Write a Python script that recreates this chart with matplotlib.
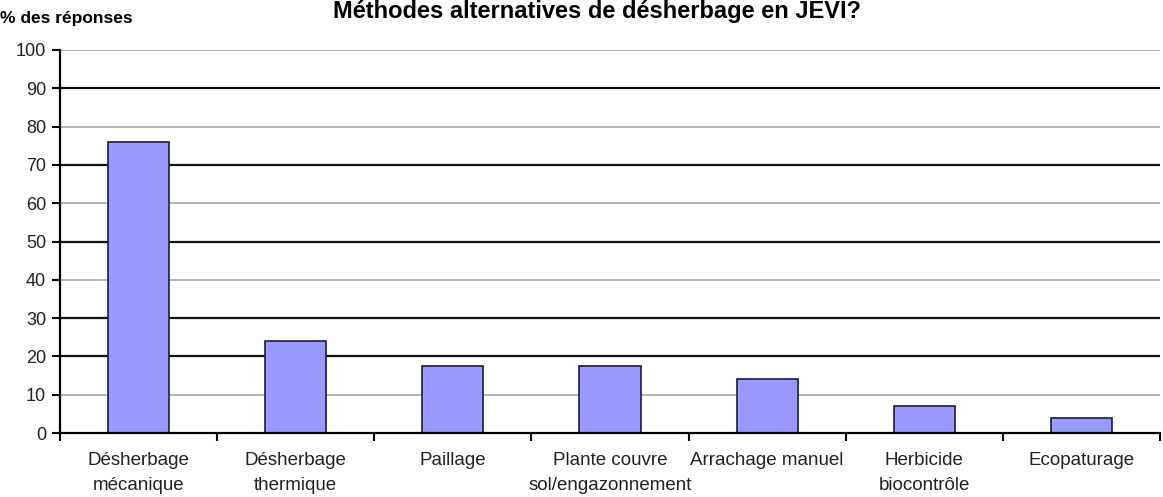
import matplotlib.pyplot as plt
import numpy as np

plt.rcParams['font.family'] = ['Liberation Sans', 'DejaVu Sans']

categories = ['Désherbage\nmécanique', 'Désherbage\nthermique', 'Paillage',
              'Plante couvre\nsol/engazonnement', 'Arrachage manuel',
              'Herbicide\nbiocontrôle', 'Ecopaturage']
values = [76, 24, 17.5, 17.5, 14, 7, 3.8]
yticks = [0, 10, 20, 30, 40, 50, 60, 70, 80, 90, 100]
# scanned chart: some grid lines came out dark, others light
dark_lines = [20, 30, 50, 70, 90]
light_lines = [10, 40, 60, 80, 100]

fig = plt.figure(figsize=(11.63, 4.97), dpi=100)
ax = fig.add_axes([60 / 1163, 1 - 433 / 497, 1100 / 1163, 383 / 497])

x = np.arange(len(categories))
for y in light_lines:
    ax.axhline(y, color='#a8a8a8', linewidth=1.2, zorder=1)
for y in dark_lines:
    ax.axhline(y, color='#111111', linewidth=1.6, zorder=1)

ax.bar(x, values, width=0.39, color='#9999ff', edgecolor='#1a1a40',
       linewidth=1.2, zorder=3)

ax.set_xlim(-0.5, len(categories) - 0.5)
ax.set_ylim(0, 100)
ax.set_yticks(yticks)
ax.set_yticklabels([str(v) for v in yticks], fontsize=13, color='#222222')

ax.set_xticks(x)
ax.set_xticklabels(categories, fontsize=13.5, color='#222222',
                   linespacing=1.55)
ax.tick_params(axis='x', length=0, pad=14)
ax.set_xticks(np.arange(len(categories) + 1) - 0.5, minor=True)
ax.tick_params(axis='x', which='minor', length=6, width=1.5, color='black')
ax.tick_params(axis='y', length=6, width=1.5, color='black', pad=4)

for s in ['top', 'right']:
    ax.spines[s].set_visible(False)
for s in ['left', 'bottom']:
    ax.spines[s].set_linewidth(1.6)
    ax.spines[s].set_color('black')
    ax.spines[s].set_zorder(4)

fig.text(0.0, 1 - 19 / 497, '% des réponses', fontsize=12.5,
         fontweight='bold', va='center', ha='left')
fig.text(0.513, 1 - 18 / 497, 'Méthodes alternatives de désherbage en JEVI?',
         fontsize=17, fontweight='bold', ha='center', va='baseline')

fig.savefig('out.png', dpi=100)
plt.close()
